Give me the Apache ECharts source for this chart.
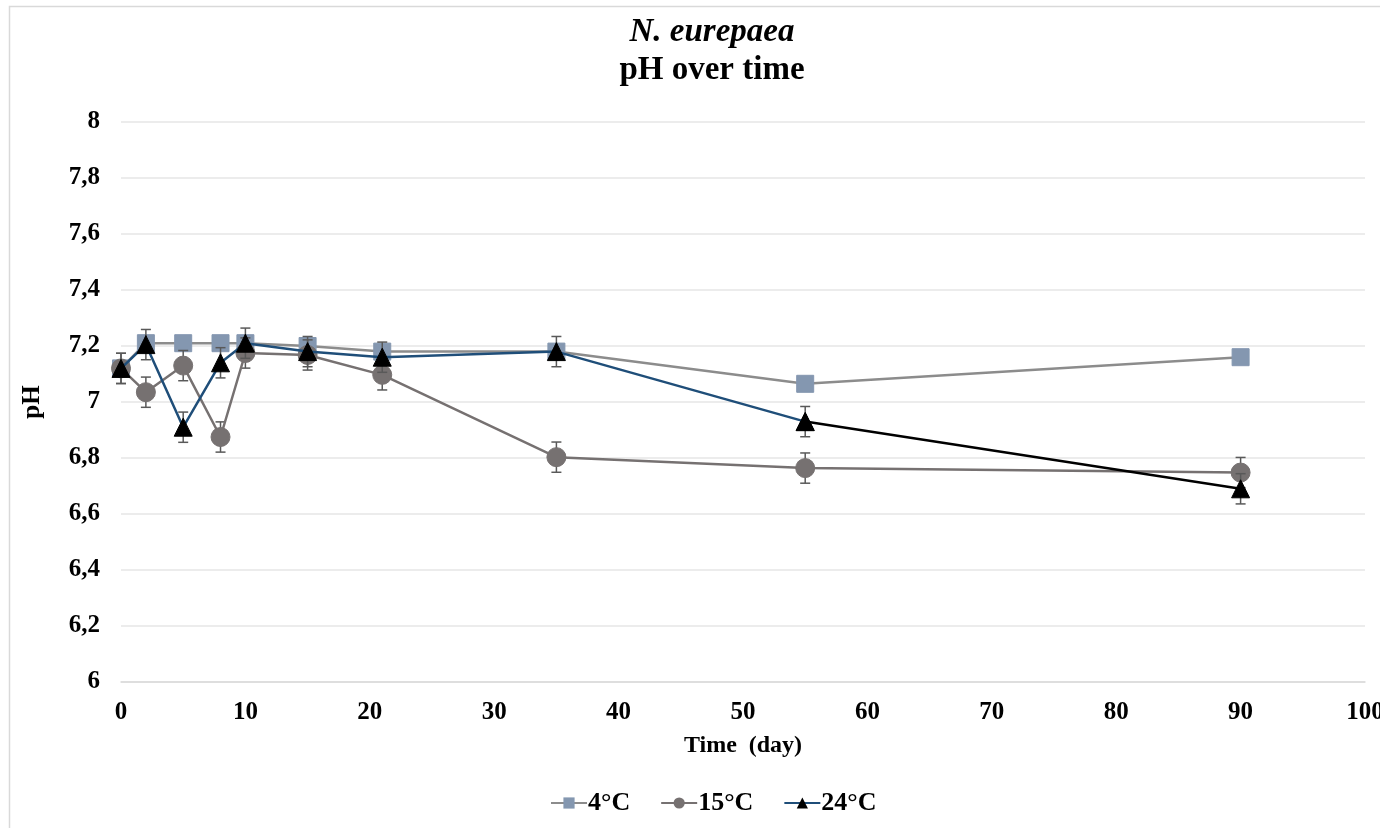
<!DOCTYPE html>
<html>
<head>
<meta charset="utf-8">
<script src="https://cdn.jsdelivr.net/npm/echarts@6/dist/echarts.min.js"></script>
<style>html,body{margin:0;padding:0;background:#fff}#c{width:1380px;height:828px}</style>
</head>
<body>
<div id="c"></div>
<script>
const days = [0, 2, 5, 8, 10, 15, 21, 35, 55, 90];
const ph4 = [7.12, 7.21, 7.21, 7.21, 7.21, 7.20, 7.18, 7.18, 7.065, 7.16];
const err4 = [0.02, 0.02, 0.02, 0.02, 0.02, 0.02, 0.02, 0.02, 0.02, 0.02];
const ph15 = [7.12, 7.035, 7.13, 6.875, 7.175, 7.168, 7.097, 6.803, 6.764, 6.748];
const err15 = [0.054, 0.054, 0.054, 0.054, 0.054, 0.054, 0.054, 0.054, 0.054, 0.054];
const ph24 = [7.12, 7.205, 6.91, 7.14, 7.21, 7.18, 7.16, 7.18, 6.93, 6.69];
const err24 = [0.054, 0.054, 0.054, 0.054, 0.054, 0.054, 0.054, 0.054, 0.054, 0.054];
const names = ['4°C', '15°C', '24°C'];
const yTicks = [6, 6.2, 6.4, 6.6, 6.8, 7, 7.2, 7.4, 7.6, 7.8, 8];

const FONT = '"Liberation Serif", "Times New Roman", serif';
const pts = (ys) => days.map((d, i) => [d, ys[i]]);
const errData = (ys, es) => days.map((d, i) => [d, ys[i] - es[i], ys[i] + es[i]]);

function errSeries(ys, es, z) {
  return {
    type: 'custom', silent: true, z: z,
    data: errData(ys, es),
    encode: { x: 0, y: [1, 2] },
    renderItem: function (params, api) {
      const x = api.value(0);
      const lo = api.coord([x, api.value(1)]);
      const hi = api.coord([x, api.value(2)]);
      const w = 5;
      const st = { stroke: '#595959', lineWidth: 1.5, fill: 'none' };
      return {
        type: 'group',
        children: [
          { type: 'line', shape: { x1: lo[0], y1: lo[1], x2: hi[0], y2: hi[1] }, style: st },
          { type: 'line', shape: { x1: lo[0] - w, y1: lo[1], x2: lo[0] + w, y2: lo[1] }, style: st },
          { type: 'line', shape: { x1: hi[0] - w, y1: hi[1], x2: hi[0] + w, y2: hi[1] }, style: st }
        ]
      };
    }
  };
}

const lastSeg = [[days[8], ph24[8]], [days[9], ph24[9]]];

const option = {
  animation: false,
  backgroundColor: '#fff',
  title: {
    text: '{i|N. eurepaea}\n{b|pH over time}',
    left: 707, textAlign: 'center', top: 8,
    textStyle: {
      rich: {
        i: { fontFamily: FONT, fontStyle: 'italic', fontWeight: 'bold', fontSize: 33, color: '#000', lineHeight: 38 },
        b: { fontFamily: FONT, fontWeight: 'bold', fontSize: 33, color: '#000', lineHeight: 38 }
      }
    }
  },
  legend: {
    top: 785, left: 545,
    data: names,
    itemWidth: 36, itemHeight: 14, itemGap: 30,
    textStyle: { fontFamily: FONT, fontWeight: 'bold', fontSize: 26, color: '#000', padding: [0, 0, 0, -4] }
  },
  grid: { left: 121, right: 15, top: 122, bottom: 146, containLabel: false, outerBoundsMode: 'none' },
  xAxis: {
    type: 'value', min: 0, max: 100, interval: 10,
    name: 'Time  (day)', nameLocation: 'middle', nameGap: 52,
    nameTextStyle: { fontFamily: FONT, fontWeight: 'bold', fontSize: 24, color: '#000' },
    axisLine: { show: true, lineStyle: { color: '#d9d9d9', width: 1.5 } },
    axisTick: { show: false },
    splitLine: { show: false },
    axisLabel: { fontFamily: FONT, fontWeight: 'bold', fontSize: 25, color: '#000', margin: 18 }
  },
  yAxis: {
    type: 'value', min: 6, max: 8, interval: 0.2,
    name: 'pH', nameLocation: 'middle', nameGap: 76, nameRotate: 90,
    nameTextStyle: { fontFamily: FONT, fontWeight: 'bold', fontSize: 25, color: '#000' },
    axisLine: { show: false },
    axisTick: { show: false },
    splitLine: { show: true, lineStyle: { color: '#e6e6e6', width: 1.5 } },
    axisLabel: {
      fontFamily: FONT, fontWeight: 'bold', fontSize: 25, color: '#000', margin: 21,
      formatter: function (v) {
        const t = yTicks.find(k => Math.abs(k - v) < 1e-6);
        return String(Math.round((t === undefined ? v : t) * 10) / 10).replace('.', ',');
      }
    }
  },
  graphic: [{
    type: 'rect', silent: true,
    shape: { x: 9.5, y: 6.5, width: 1400, height: 850 },
    style: { fill: 'none', stroke: '#d9d9d9', lineWidth: 1.5 }
  }],
  series: [
    errSeries(ph4, err4, 1),
    {
      name: names[0], type: 'line', data: pts(ph4), z: 2,
      symbol: 'rect', symbolSize: 17,
      lineStyle: { color: '#8c8c8c', width: 2.5 },
      itemStyle: { color: '#8497B0', borderColor: '#8497B0' }
    },
    errSeries(ph15, err15, 3),
    {
      name: names[1], type: 'line', data: pts(ph15), z: 4,
      symbol: 'circle', symbolSize: 19,
      lineStyle: { color: '#767171', width: 2.5 },
      itemStyle: { color: '#767171', borderColor: '#767171' }
    },
    errSeries(ph24, err24, 5),
    {
      name: names[2], type: 'line', data: pts(ph24).slice(0, 9), z: 6,
      symbol: 'triangle', symbolSize: 18,
      lineStyle: { color: '#1F4E79', width: 2.5 },
      itemStyle: { color: '#000', borderColor: '#000' }
    },
    {
      name: '24seg', type: 'line', data: lastSeg, z: 6,
      symbol: 'triangle', symbolSize: 18,
      lineStyle: { color: '#000', width: 2.5 },
      itemStyle: { color: '#000', borderColor: '#000' }
    }
  ]
};

const chart = echarts.init(document.getElementById('c'), null, { renderer: 'canvas' });
chart.setOption(option);
</script>
</body>
</html>
